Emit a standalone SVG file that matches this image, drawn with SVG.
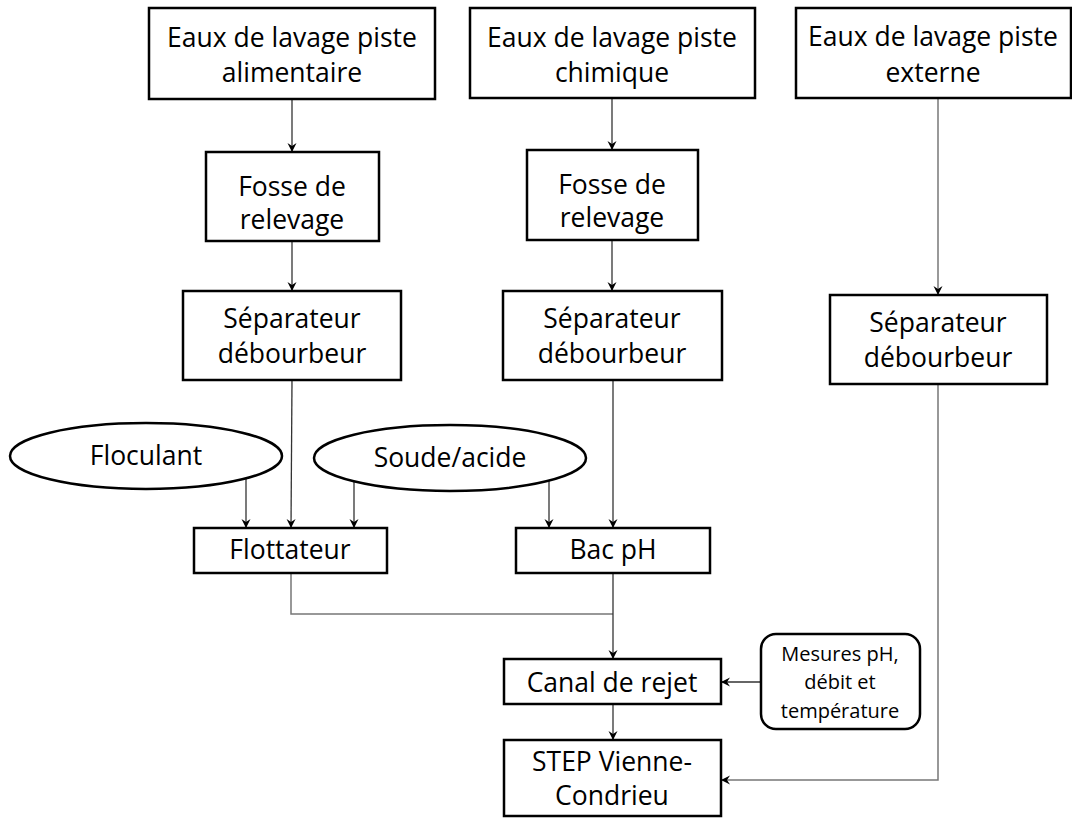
<svg xmlns="http://www.w3.org/2000/svg" width="1072" height="818" viewBox="0 0 1072 818">
<style>
.box{fill:#fff;stroke:#000;stroke-width:2.5}
.t{font-family:"Open Sans","Liberation Sans",sans-serif;font-size:26.5px;fill:#000;text-anchor:middle}
.s{font-family:"Open Sans","Liberation Sans",sans-serif;font-size:20px;fill:#000;text-anchor:middle}
.c{fill:none;stroke:#333;stroke-width:1.3}
.g{fill:none;stroke:#777;stroke-width:1.5}
</style>
<defs>
<marker id="ah" markerWidth="10" markerHeight="10" refX="9" refY="5" orient="auto" markerUnits="userSpaceOnUse">
<path d="M0,0.5 L9,5 L0,9.5 L3,5 z" fill="#000"/>
</marker>
</defs>
<rect width="1072" height="818" fill="#fff"/>
<g id="connectors">
<line class="c" x1="292" y1="99" x2="292" y2="152" marker-end="url(#ah)"/>
<line class="c" x1="612" y1="98" x2="612" y2="150" marker-end="url(#ah)"/>
<line class="g" x1="938" y1="98" x2="938" y2="295" marker-end="url(#ah)"/>
<line class="c" x1="292" y1="241" x2="292" y2="291" marker-end="url(#ah)"/>
<line class="c" x1="612" y1="240" x2="612" y2="291" marker-end="url(#ah)"/>
<line class="c" x1="292" y1="380" x2="291" y2="528" marker-end="url(#ah)"/>
<line class="c" x1="613" y1="380" x2="613" y2="528" marker-end="url(#ah)"/>
<line class="c" x1="246" y1="479" x2="246" y2="528" marker-end="url(#ah)"/>
<line class="c" x1="354" y1="481" x2="354" y2="528" marker-end="url(#ah)"/>
<line class="c" x1="549" y1="481" x2="549" y2="528" marker-end="url(#ah)"/>
<polyline class="g" points="291,573 291,614 613,614"/>
<line class="c" x1="613" y1="573" x2="613" y2="659" marker-end="url(#ah)"/>
<line class="c" x1="761" y1="682" x2="721" y2="682" marker-end="url(#ah)"/>
<line class="c" x1="613" y1="704" x2="613" y2="740" marker-end="url(#ah)"/>
<polyline class="g" points="938,384 938,780 721,780" marker-end="url(#ah)"/>
</g>
<g id="eaux-alimentaire"><rect class="box" x="149" y="8" width="286" height="91"/><text class="t" x="292" y="47">Eaux de lavage piste</text><text class="t" x="292" y="82">alimentaire</text></g>
<g id="eaux-chimique"><rect class="box" x="470" y="8" width="285" height="90"/><text class="t" x="612" y="47">Eaux de lavage piste</text><text class="t" x="612" y="82">chimique</text></g>
<g id="eaux-externe"><rect class="box" x="796" y="8" width="275" height="90"/><text class="t" x="933" y="46">Eaux de lavage piste</text><text class="t" x="933" y="82">externe</text></g>
<g id="fosse1"><rect class="box" x="206" y="152" width="173" height="89"/><text class="t" x="292" y="196">Fosse de</text><text class="t" x="292" y="229">relevage</text></g>
<g id="fosse2"><rect class="box" x="527" y="150" width="171" height="90"/><text class="t" x="612" y="194">Fosse de</text><text class="t" x="612" y="227">relevage</text></g>
<g id="sep1"><rect class="box" x="183" y="291" width="218" height="89"/><text class="t" x="292" y="328">Séparateur</text><text class="t" x="292" y="363">débourbeur</text></g>
<g id="sep2"><rect class="box" x="503" y="291" width="219" height="89"/><text class="t" x="612" y="328">Séparateur</text><text class="t" x="612" y="363">débourbeur</text></g>
<g id="sep3"><rect class="box" x="830" y="295" width="217" height="89"/><text class="t" x="938" y="332">Séparateur</text><text class="t" x="938" y="367">débourbeur</text></g>
<g id="floculant"><ellipse class="box" cx="146" cy="456" rx="136" ry="33"/><text class="t" x="146" y="465">Floculant</text></g>
<g id="soude"><ellipse class="box" cx="450" cy="458" rx="136" ry="33"/><text class="t" x="450" y="467">Soude/acide</text></g>
<g id="flottateur"><rect class="box" x="194" y="528" width="193" height="45"/><text class="t" x="290" y="559">Flottateur</text></g>
<g id="bacph"><rect class="box" x="516" y="528" width="194" height="45"/><text class="t" x="613" y="559">Bac pH</text></g>
<g id="canal"><rect class="box" x="504" y="659" width="217" height="45"/><text class="t" x="612" y="692">Canal de rejet</text></g>
<g id="mesures"><rect class="box" x="761" y="634" width="159" height="95" rx="15" ry="15"/><text class="s" x="840" y="661">Mesures pH,</text><text class="s" x="840" y="689">débit et</text><text class="s" x="840" y="718">température</text></g>
<g id="step"><rect class="box" x="504" y="740" width="217" height="76"/><text class="t" x="612" y="771">STEP Vienne-</text><text class="t" x="612" y="805">Condrieu</text></g>
</svg>
